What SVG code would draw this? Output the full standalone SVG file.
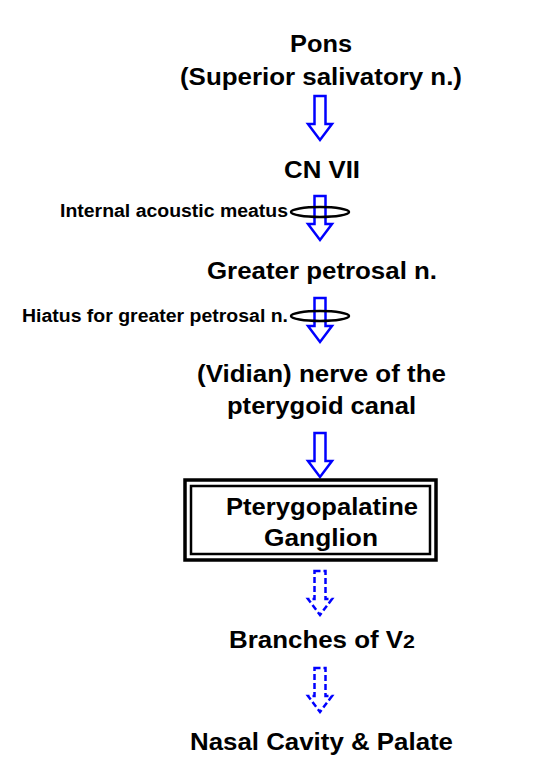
<svg xmlns="http://www.w3.org/2000/svg" width="533" height="767" viewBox="0 0 533 767">
<defs>
<style>
.t{font-family:"Liberation Sans",Arial,sans-serif;font-weight:bold;font-size:23px;fill:#000;text-anchor:middle}
.s{font-family:"Liberation Sans",Arial,sans-serif;font-weight:bold;font-size:18px;fill:#000;text-anchor:start}
.a{fill:#fff;stroke:#0000ff;stroke-width:2.5;stroke-linejoin:miter}
.d{fill:#fff;stroke:#0000ff;stroke-width:2.5;stroke-dasharray:6 3}
.r{fill:none;stroke:#000}
.e{fill:none;stroke:#000;stroke-width:2.5}
</style>
<path id="arr" d="M-5.5,0 H5.5 V28 H12 L0,44 L-12,28 H-5.5 Z"/>
</defs>
<rect width="533" height="767" fill="#fff"/>
<g id="connectors">
<use href="#arr" class="a" x="320" y="96"/>
<use href="#arr" class="a" x="320" y="196"/>
<use href="#arr" class="a" x="320" y="298"/>
<use href="#arr" class="a" x="320" y="433"/>
<use href="#arr" class="d" x="320" y="571"/>
<use href="#arr" class="d" x="320" y="668"/>
</g>
<g id="ring1"><path class="e" d="M291,212 A29,5 0 0 0 349,212"/><path class="e" d="M291,212 A29,5 0 0 1 349,212"/></g>
<g id="ring2"><path class="e" d="M291,316 A29,5 0 0 0 349,316"/><path class="e" d="M291,316 A29,5 0 0 1 349,316"/></g>
<g id="pons"><text class="t" x="321" y="52" textLength="62" lengthAdjust="spacingAndGlyphs">Pons</text><text class="t" x="321" y="85" textLength="282" lengthAdjust="spacingAndGlyphs">(Superior salivatory n.)</text></g>
<g id="cn7"><text class="t" x="322" y="178" textLength="76" lengthAdjust="spacingAndGlyphs">CN VII</text></g>
<g id="iam"><text class="s" x="60" y="217" textLength="228" lengthAdjust="spacingAndGlyphs">Internal acoustic meatus</text></g>
<g id="gpn"><text class="t" x="322" y="279" textLength="230" lengthAdjust="spacingAndGlyphs">Greater petrosal n.</text></g>
<g id="hiatus"><text class="s" x="22" y="322" textLength="266" lengthAdjust="spacingAndGlyphs">Hiatus for greater petrosal n.</text></g>
<g id="vidian"><text class="t" x="321.5" y="382" textLength="249" lengthAdjust="spacingAndGlyphs">(Vidian) nerve of the</text><text class="t" x="321.5" y="414" textLength="189" lengthAdjust="spacingAndGlyphs">pterygoid canal</text></g>
<g id="ganglion">
<rect class="r" x="185" y="480" width="251" height="80" stroke-width="3.5"/>
<rect class="r" x="191" y="486" width="239" height="68" stroke-width="2.5"/>
<text class="t" x="322" y="515" textLength="192" lengthAdjust="spacingAndGlyphs">Pterygopalatine</text><text class="t" x="321" y="546" textLength="114" lengthAdjust="spacingAndGlyphs">Ganglion</text>
</g>
<g id="v2"><text class="t" x="322" y="648" textLength="186" lengthAdjust="spacingAndGlyphs">Branches of V<tspan font-size="19">2</tspan></text></g>
<g id="nasal"><text class="t" x="321.5" y="750" textLength="263" lengthAdjust="spacingAndGlyphs">Nasal Cavity &amp; Palate</text></g>
</svg>
